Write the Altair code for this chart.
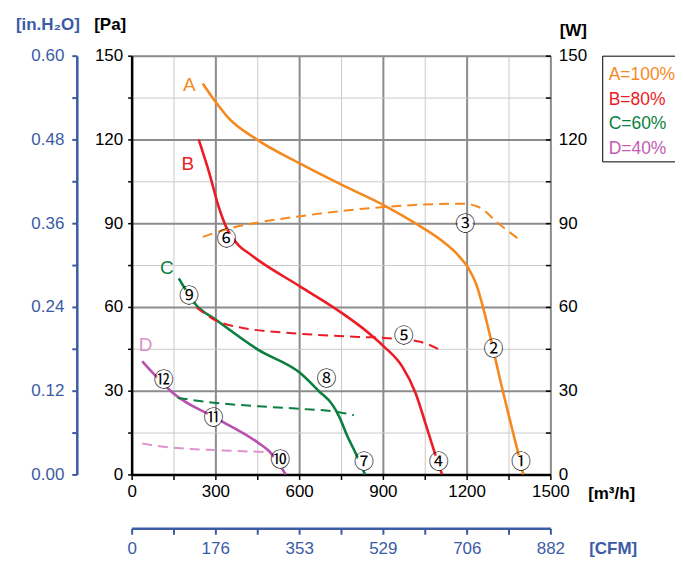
import altair as alt
import pandas as pd

# ---------------- data ----------------
series_names = ["A", "B", "C", "D"]
legend_labels = ["A=100%", "B=80%", "C=60%", "D=40%"]
solid_colors = ["#F5891F", "#EC1C24", "#0A7F3F", "#B94FAE"]
dash_colors = ["#F5891F", "#EC1C24", "#0A7F3F", "#DF92CC"]
letter_colors = ["#F5891F", "#EC1C24", "#0A7F3F", "#DF8FCB"]
legend_colors = ["#F5891F", "#EC1C24", "#0A7F3F", "#C25CB2"]

# pressure curves (m3/h, Pa)
a_q = [255, 302, 344, 445, 604, 755, 904, 1017, 1124, 1170, 1207, 1235, 1255, 1296, 1314, 1350, 1380, 1403]
a_p = [140, 133.3, 128, 120.2, 111.3, 103.6, 96.4, 89.9, 82.7, 78.5, 73.8, 68, 61.3, 44.5, 36.5, 21.5, 9.5, 0]
b_q = [240, 279, 312, 344, 386, 420, 457, 604, 755, 850, 904, 969, 1017, 1052, 1082, 1112]
b_p = [120, 107.7, 95.8, 87.5, 81.8, 79.2, 76.5, 67.3, 57.7, 50.6, 45.8, 38.7, 29.2, 18.5, 8.9, 0]
c_q = [169, 231, 302, 454, 604, 671, 719, 743, 773, 802, 836]
c_p = [70.2, 60.7, 55.4, 44.6, 36.3, 29.8, 25, 20.8, 13.7, 7.7, 0]
d_q = [38, 88, 148, 302, 454, 493, 552]
d_p = [40.5, 35.1, 29.2, 20.2, 11.3, 8.3, 0]

# power curves (m3/h, W)
pa_q = [255, 350, 445, 604, 904, 1183, 1243, 1314, 1392]
pa_w = [85.1, 88.1, 90.1, 92.5, 95.8, 97.0, 95.8, 89.9, 83.9]
pb_q = [231, 302, 386, 604, 826, 904, 1029, 1100]
pb_w = [59.9, 55.1, 52.7, 50.4, 49.2, 48.9, 47.6, 44.9]
pc_q = [165, 302, 454, 604, 743, 796]
pc_w = [27.4, 25.6, 24.4, 23.5, 22.3, 21.2]
pd_q = [38, 100, 200, 302, 400, 493]
pd_w = [11.1, 10.1, 9.2, 8.7, 8.3, 8.0]

# operating point markers
mark_text = ["①", "②", "③", "④", "⑤", "⑥", "⑦", "⑧", "⑨", "⑩", "⑪", "⑫"]
mark_q = [1395, 1296, 1195, 1100, 975, 340, 832, 698, 205, 532, 293, 115]
mark_p = [4.2, 44.6, 89.3, 4.2, 49.2, 84, 4.2, 33.9, 63.7, 4.8, 19.9, 33.6]

# curve letters
letter_q = [207, 201, 126, 50]
letter_p = [139.6, 111.3, 73.8, 46.4]

# axes ticks / labels
q_ticks = [0, 150, 300, 450, 600, 750, 900, 1050, 1200, 1350, 1500]
p_ticks = [0, 15, 30, 45, 60, 75, 90, 105, 120, 135, 150]
w_ticks = [0, 15, 30, 45, 60, 75, 90, 105, 120, 135, 150]
h_ticks = [0, 0.06, 0.12, 0.18, 0.24, 0.30, 0.36, 0.42, 0.48, 0.54, 0.60]
cfm_labels = [0, 176, 353, 529, 706, 882]
cfm_ticks = [0, 88, 176, 264.5, 353, 441, 529, 617.5, 706, 794, 882]

# ---------------- tables ----------------
rows = []
for s, lab, qs, ps in zip(series_names, legend_labels, [a_q, b_q, c_q, d_q], [a_p, b_p, c_p, d_p]):
    for i, (q, p) in enumerate(zip(qs, ps)):
        rows.append({"series": s, "label": lab, "q": q, "p": p, "o": i})
solid_df = pd.DataFrame(rows)

rows = []
for s, qs, ws in zip(series_names, [pa_q, pb_q, pc_q, pd_q], [pa_w, pb_w, pc_w, pd_w]):
    for i, (q, w) in enumerate(zip(qs, ws)):
        rows.append({"series": s, "q": q, "w": w, "o": i})
dash_df = pd.DataFrame(rows)

marks_df = pd.DataFrame({"t": mark_text, "q": mark_q, "p": mark_p})
letters_df = pd.DataFrame({"series": series_names, "q": letter_q, "p": letter_p})

FONT = "Liberation Sans"
BLUE = "#3B5BA5"
W, H = 420, 420


def X(field="q", axis=None):
    return alt.X(f"{field}:Q", scale=alt.Scale(domain=[0, 1500], nice=False, zero=False), axis=axis)


def Y(field="p", axis=None):
    return alt.Y(f"{field}:Q", scale=alt.Scale(domain=[0, 150], nice=False, zero=False), axis=axis)


main_x_axis = alt.Axis(
    values=q_ticks, format="d",
    labelExpr="datum.value % 300 === 0 ? datum.label : ''",
    grid=True,
    gridColor={"condition": {"test": "datum.value % 300 === 0", "value": "#8C8C8C"}, "value": "#CACACA"},
    gridWidth={"condition": {"test": "datum.value % 300 === 0", "value": 2}, "value": 1},
    domainColor="black", domainWidth=2.5, tickColor="black", tickWidth=1.5, tickSize=5,
    labelFont=FONT, labelFontSize=17, labelColor="black", labelPadding=4,
    labelOverlap=False, labelFlush=False,
    title="[m³/h]", titleX=481, titleY=19, titleAlign="center", titleBaseline="middle",
    titleFont=FONT, titleFontSize=17, titleFontWeight="bold", titleColor="black",
)

pa_axis = alt.Axis(
    values=p_ticks, format="d",
    labelExpr="datum.value % 30 === 0 ? datum.label : ''",
    grid=True,
    gridColor={"condition": {"test": "datum.value % 30 === 0", "value": "#8C8C8C"}, "value": "#CACACA"},
    gridWidth={"condition": {"test": "datum.value % 30 === 0", "value": 2}, "value": 1},
    domainColor="black", domainWidth=2.5, tickColor="black", tickWidth=1.5, tickSize=4,
    labelFont=FONT, labelFontSize=17, labelColor="black", labelPadding=5,
    labelOverlap=False, labelFlush=False,
    title="[Pa]", titleAngle=0, titleX=-22, titleY=-31, titleAlign="center", titleBaseline="middle",
    titleFont=FONT, titleFontSize=17, titleFontWeight="bold", titleColor="black",
)

w_axis = alt.Axis(
    orient="right", offset=-5, values=w_ticks, format="d",
    labelExpr="datum.value % 30 === 0 ? datum.label : ''",
    grid=False, domain=False, tickColor="black", tickWidth=1.5, tickSize=5,
    labelFont=FONT, labelFontSize=17, labelColor="black", labelPadding=8,
    labelOverlap=False, labelFlush=False,
    title="[W]", titleAngle=0, titleX=27.5, titleY=-25.5, titleAlign="center", titleBaseline="middle",
    titleFont=FONT, titleFontSize=17, titleFontWeight="bold", titleColor="black",
)

h_axis = alt.Axis(
    orient="left", offset=55, values=h_ticks,
    labelExpr="round(datum.value * 100) % 12 === 0 ? format(datum.value, '.2f') : ''",
    grid=False, domainColor=BLUE, domainWidth=2.5, tickColor=BLUE, tickWidth=2, tickSize=5,
    labelFont=FONT, labelFontSize=17, labelColor=BLUE, labelPadding=8,
    labelOverlap=False, labelFlush=False,
    title="[in.H₂O]", titleAngle=0, titleX=-29.5, titleY=-31, titleAlign="center", titleBaseline="middle",
    titleFont=FONT, titleFontSize=17, titleFontWeight="bold", titleColor=BLUE,
)

cfm_axis = alt.Axis(
    orient="bottom", offset=54, values=cfm_ticks, format="d",
    labelExpr="indexof([" + ",".join(str(v) for v in cfm_labels) + "], datum.value) >= 0 ? datum.label : ''",
    grid=False, domainColor=BLUE, domainWidth=2.5, tickColor=BLUE, tickWidth=2, tickSize=6,
    labelFont=FONT, labelFontSize=17, labelColor=BLUE, labelPadding=6,
    labelOverlap=False, labelFlush=False,
    title="[CFM]", titleX=482.5, titleY=20, titleAlign="center", titleBaseline="middle",
    titleFont=FONT, titleFontSize=17, titleFontWeight="bold", titleColor=BLUE,
)

legend_expr = " : ".join(
    f"datum.value === '{l}' ? '{c}'" for l, c in zip(legend_labels, legend_colors)
) + " : 'black'"

legend = alt.Legend(
    title=" ", titleFontSize=7, titlePadding=0,
    orient="none", legendX=472, legendY=0,
    strokeColor="black", fillColor="white", padding=4,
    symbolSize=0, symbolStrokeWidth=0, symbolOpacity=0, labelOffset={"expr": "-15"},
    labelFont=FONT, labelFontSize=17.5, labelColor={"expr": legend_expr}, rowPadding=5.5,
)

solid = alt.Chart(solid_df).mark_line(strokeWidth=2.6, interpolate="monotone").encode(
    x=X("q", main_x_axis),
    y=Y("p", pa_axis),
    color=alt.Color("label:N", scale=alt.Scale(domain=legend_labels, range=solid_colors), legend=legend),
    order="o:Q",
)

dashed = alt.Chart(dash_df).mark_line(strokeWidth=2, strokeDash=[10, 6], interpolate="monotone").encode(
    x=X("q"),
    y=Y("w", w_axis),
    color=alt.Color("series:N", scale=alt.Scale(domain=series_names, range=dash_colors), legend=None),
    order="o:Q",
)

discs = alt.Chart(marks_df).mark_point(filled=True, color="white", opacity=1, size=240).encode(
    x=X("q"), y=Y("p"),
)

numbers = alt.Chart(marks_df).mark_text(font="Noto Sans CJK JP", fontSize=20, color="black",
                                          baseline="middle", align="center").encode(
    x=X("q"), y=Y("p"), text="t:N",
)

letters = alt.Chart(letters_df).mark_text(font=FONT, fontSize=19, baseline="middle", align="center").encode(
    x=X("q"), y=Y("p"), text="series:N",
    color=alt.Color("series:N", scale=alt.Scale(domain=series_names, range=letter_colors), legend=None),
)

h_df = pd.DataFrame({"h": [0, 0.6]})
h_layer = alt.Chart(h_df).mark_point(opacity=0).encode(
    y=alt.Y("h:Q", scale=alt.Scale(domain=[0, 0.6], nice=False, zero=False), axis=h_axis),
)

cfm_df = pd.DataFrame({"cfm": [0, 882]})
cfm_layer = alt.Chart(cfm_df).mark_point(opacity=0).encode(
    x=alt.X("cfm:Q", scale=alt.Scale(domain=[0, 882], nice=False, zero=False), axis=cfm_axis),
)

chart = alt.layer(solid, dashed, discs, numbers, letters, h_layer, cfm_layer).resolve_scale(
    x="independent", y="independent", color="independent"
).properties(
    width=W, height=H,
    autosize=alt.AutoSizeParams(type="none"),
    padding={"left": 124, "top": 47, "right": 125, "bottom": 83},
).configure_view(
    stroke="black", strokeWidth=2.5
).configure(background="white")

chart.save("out.html", embed_options={"renderer": "svg", "actions": False})
